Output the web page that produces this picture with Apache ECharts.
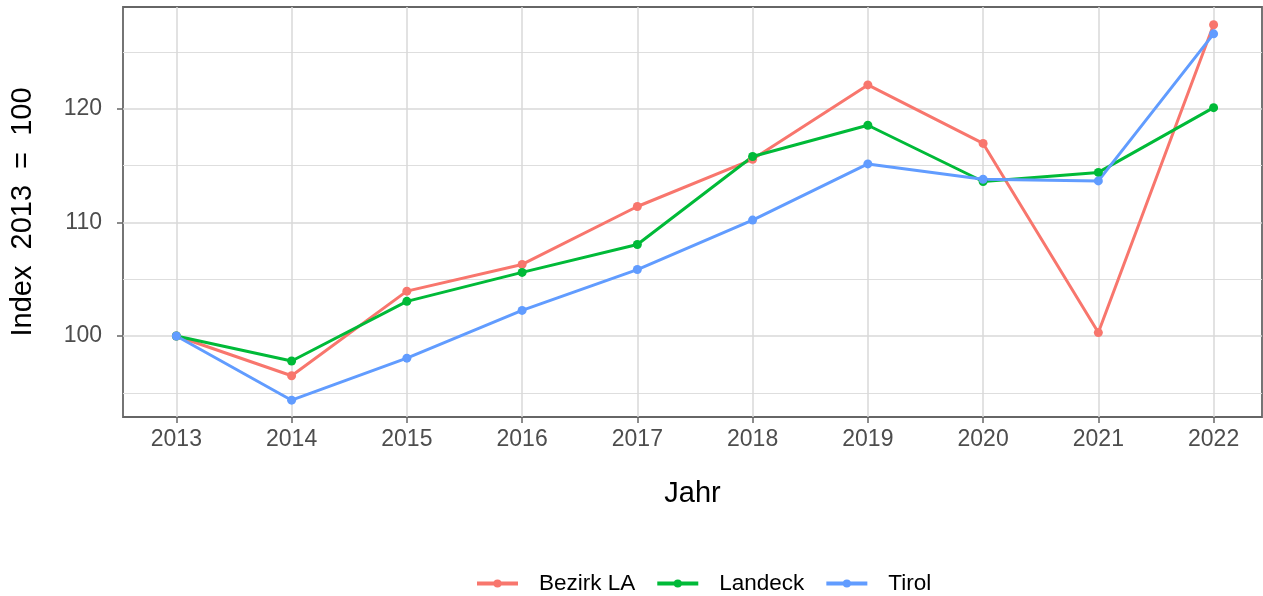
<!DOCTYPE html>
<html>
<head>
<meta charset="utf-8">
<script src="https://cdn.jsdelivr.net/npm/echarts@6/dist/echarts.min.js"></script>
<style>
  html, body { margin: 0; padding: 0; background: #fff; }
  #chart { width: 1263px; height: 596px; }
</style>
</head>
<body>
<div id="chart"></div>
<script>
const years = [2013, 2014, 2015, 2016, 2017, 2018, 2019, 2020, 2021, 2022];
const bezirkLA = [100, 96.5, 103.95, 106.3, 111.4, 115.55, 122.1, 116.95, 100.3, 127.4];
const landeck = [100, 97.8, 103.05, 105.6, 108.05, 115.8, 118.55, 113.6, 114.4, 120.1];
const tirol = [100, 94.35, 98.05, 102.25, 105.85, 110.2, 115.15, 113.8, 113.65, 126.6];
const yMajorTicks = [100, 110, 120];
const yMinorTicks = [95, 105, 115, 125];

const font = 'Arial, "Liberation Sans", sans-serif';
const colors = ['#F8766D', '#00BA38', '#619CFF'];

function makeSeries(name, values, color) {
    return {
        name: name,
        type: 'line',
        data: years.map((y, i) => [y, values[i]]),
        symbol: 'circle',
        symbolSize: 9,
        color: color,
        lineStyle: { width: 3, color: color },
        itemStyle: { color: color },
        emphasis: { disabled: true },
        animation: false
    };
}

const chart = echarts.init(document.getElementById('chart'));

chart.setOption({
    backgroundColor: '#ffffff',
    animation: false,
    grid: {
        left: 123,
        right: 1,
        top: 7,
        bottom: 179,
        show: true,
        borderColor: '#666666',
        borderWidth: 1.8,
        backgroundColor: 'transparent'
    },
    legend: {
        data: ['Bezirk LA', 'Landeck', 'Tirol'],
        left: 470,
        top: 567,
        itemWidth: 41,
        itemHeight: 10,
        itemGap: 20,
        lineStyle: { width: 4 },
        textStyle: {
            fontFamily: font,
            fontSize: 22.5,
            color: '#000',
            padding: [0, 0, 0, 16]
        }
    },
    xAxis: {
        type: 'value',
        min: 2012.537,
        max: 2022.42,
        name: 'Jahr',
        nameLocation: 'middle',
        nameGap: 62,
        nameTextStyle: { fontFamily: font, fontSize: 29, color: '#000' },
        axisLine: { show: false },
        axisTick: {
            show: true,
            length: 6,
            customValues: years,
            lineStyle: { color: '#666666', width: 1.5 }
        },
        axisLabel: {
            customValues: years,
            formatter: v => String(v),
            fontFamily: font,
            fontSize: 23,
            color: '#4D4D4D',
            margin: 11
        },
        splitLine: { show: true, lineStyle: { color: '#D9D9D9', width: 1.5 } }
    },
    yAxis: [
        {
            type: 'value',
            min: 92.87,
            max: 128.96,
            name: 'Index  2013  =  100',
            nameLocation: 'middle',
            nameGap: 86,
            nameTextStyle: { fontFamily: font, fontSize: 29, color: '#000' },
            axisLine: { show: false },
            axisTick: {
                show: true,
                length: 6,
                customValues: yMajorTicks,
                lineStyle: { color: '#666666', width: 1.5 }
            },
            axisLabel: {
                customValues: yMajorTicks,
                fontFamily: font,
                fontSize: 23,
                color: '#4D4D4D',
                margin: 21
            },
            splitLine: { show: true, lineStyle: { color: '#D9D9D9', width: 1.5 } }
        },
        {
            type: 'value',
            min: 92.87,
            max: 128.96,
            position: 'left',
            axisLine: { show: false },
            axisTick: { show: false, customValues: yMinorTicks },
            axisLabel: { show: false, customValues: yMinorTicks },
            splitLine: { show: true, lineStyle: { color: '#DEDEDE', width: 1.2 } }
        }
    ],
    series: [
        makeSeries('Bezirk LA', bezirkLA, colors[0]),
        makeSeries('Landeck', landeck, colors[1]),
        makeSeries('Tirol', tirol, colors[2])
    ]
});
</script>
</body>
</html>
